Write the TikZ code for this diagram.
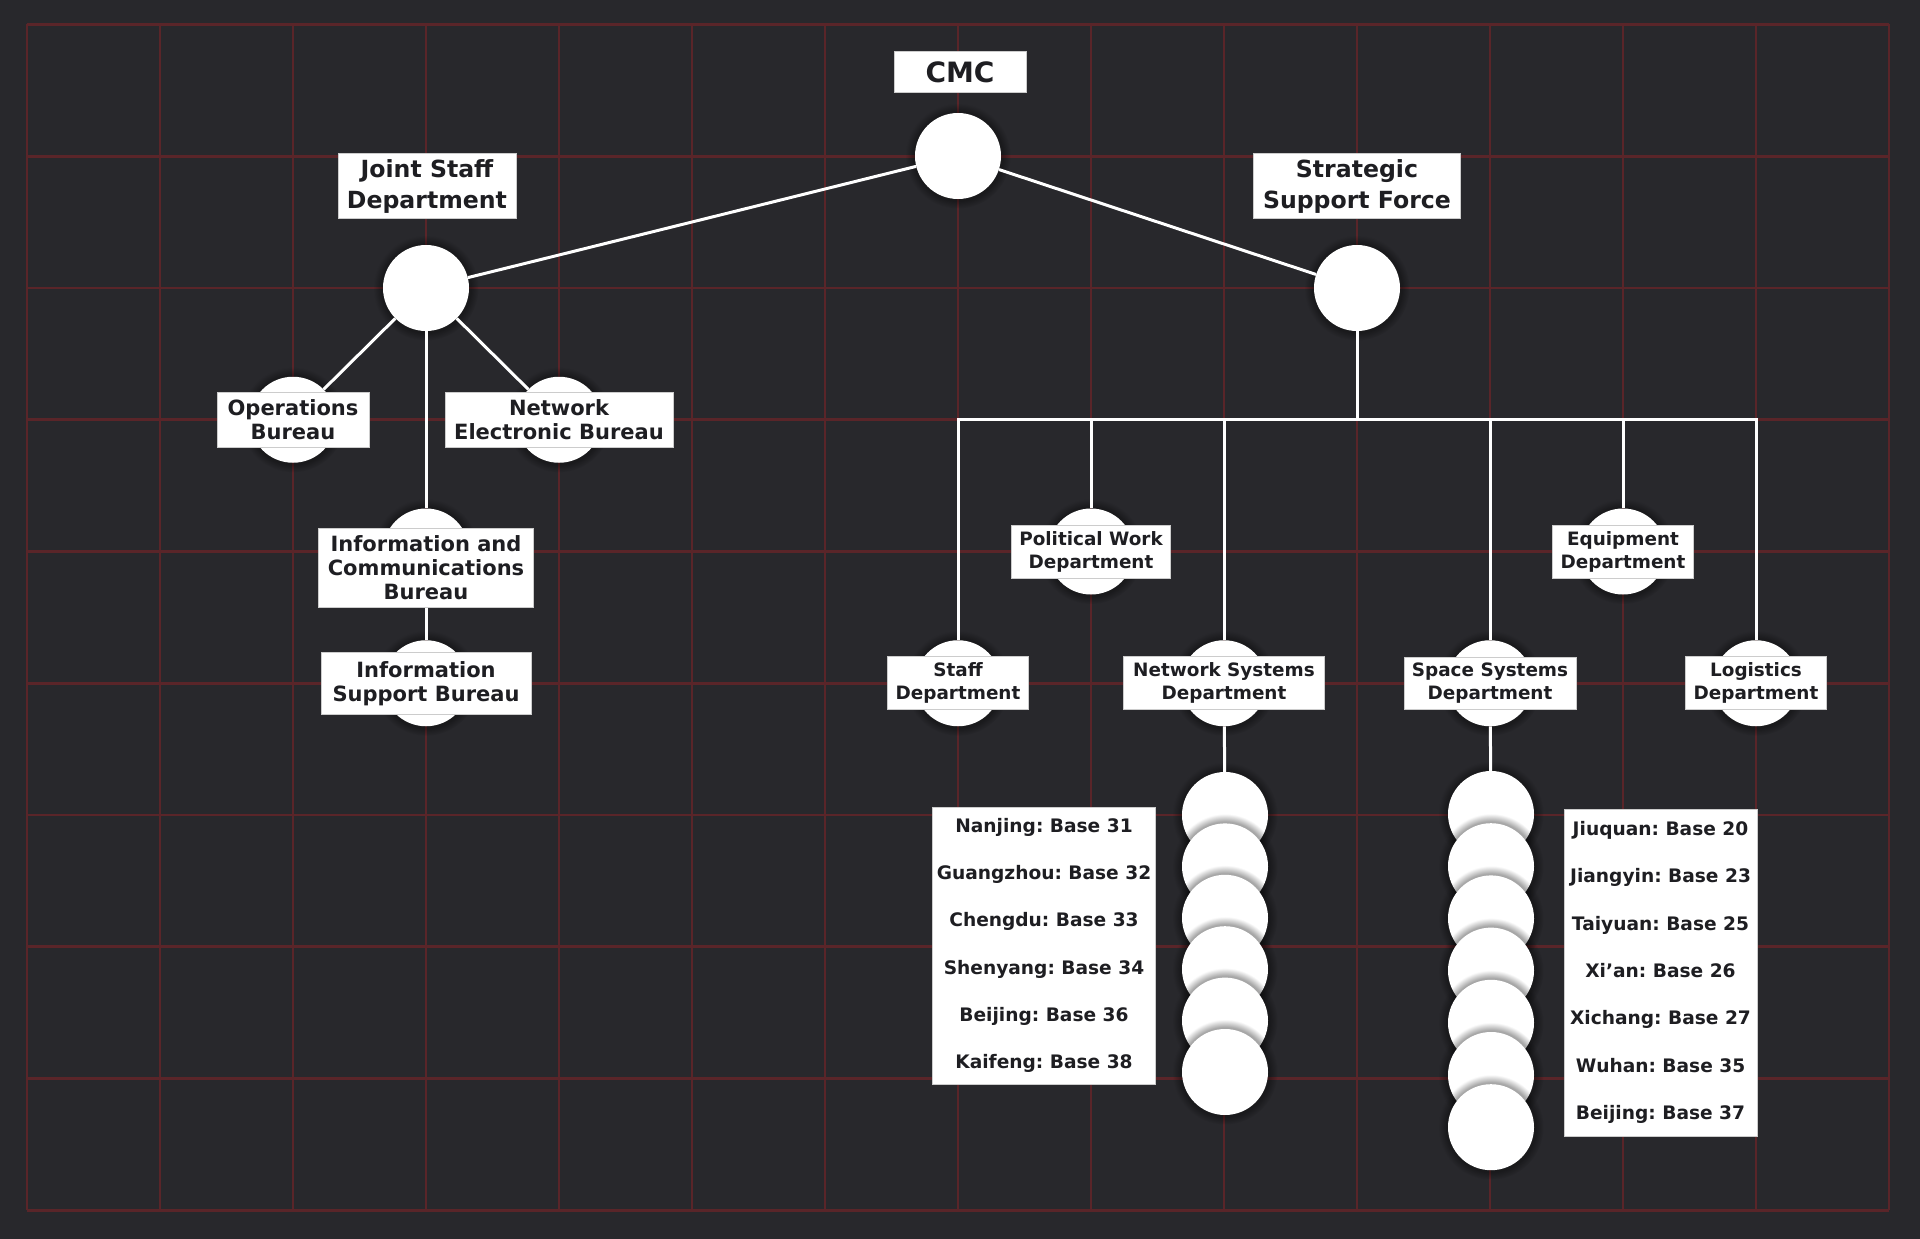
\documentclass[tikz,border=0pt]{standalone}
\usepackage{fontspec}
\setmainfont{DejaVu Sans}
\usepackage{tikz}
\usetikzlibrary{shadows}
\definecolor{bgdark}{HTML}{28282C}
\definecolor{gridred}{HTML}{5A2529}
\definecolor{inkdark}{HTML}{1E1E22}
\frenchspacing
\tikzset{
  orgnode/.style = {rectangle, fill=white, draw=black!20, line width=0.8pt,
    text=inkdark, align=center, inner xsep=9pt, inner ysep=7.5pt},
  org_c/.style = {circle, fill=white, minimum size=86pt, inner sep=0pt,
    circular drop shadow={shadow xshift=0pt, shadow yshift=0pt,
      shadow scale=1.22, fill=black, opacity=.35}},% disque blanc
  org_t/.style = {orgnode, minimum width=132pt, minimum height=41pt,
    font=\bfseries\fontsize{28}{30}\selectfont},% sommet
  org_h/.style = {orgnode, inner ysep=5.5pt,
    font=\bfseries\fontsize{23.6}{31}\selectfont},% branches
  org_b/.style = {orgnode, font=\bfseries\fontsize{21}{24}\selectfont},% bureaux
  org_d/.style = {orgnode, inner xsep=8pt, inner ysep=6pt,
    font=\bfseries\fontsize{18.4}{23}\selectfont},% departements
  org_l/.style = {orgnode, inner xsep=4pt,
    font=\bfseries\fontsize{18.6}{47.3}\selectfont},% listes des bases
  link/.style = {draw=white, line width=3pt}
}

\begin{document}
\begin{tikzpicture}[x=1pt, y=-1pt]
\useasboundingbox (0,0) rectangle (1920,1239);
\fill[bgdark] (0,0) rectangle (1920,1239);
\foreach \i in {0,...,14}
  \draw[gridred, line width=2.7pt] ({27+133*\i},24.5) -- ({27+133*\i},1210.25);
\foreach \j in {0,...,9}
  \draw[gridred, line width=2.7pt] (27,{24.5+131.75*\j}) -- (1889,{24.5+131.75*\j});

% disques
\node [org_c] (cmc) at (958,156) {};
\node [org_c] (jsd) at (426,288) {};
\node [org_c] (ssf) at (1357,288) {};
\node [org_c] (ops) at (293,419.75) {};
\node [org_c] (neb) at (559,419.75) {};
\node [org_c] (icb) at (426,551.5) {};
\node [org_c] (isb) at (426,683.25) {};
\node [org_c] (pwd) at (1091,551.5) {};
\node [org_c] (eqd) at (1623,551.5) {};
\node [org_c] (sfd) at (958,683.25) {};
\node [org_c] (nsd) at (1224,683.25) {};
\node [org_c] (ssd) at (1490,683.25) {};
\node [org_c] (lgd) at (1756,683.25) {};
\foreach \i in {1,...,6}
  \node [org_c] (nw\i) at (1225,{763.6+51.4*\i}) {};
\foreach \i in {1,...,7}
  \node [org_c] (sp\i) at (1491,{761.8+52.2*\i}) {};

% liens
\draw[link] (cmc) -- (jsd);
\draw[link] (cmc) -- (ssf);
\draw[link] (jsd) -- (ops);
\draw[link] (jsd) -- (neb);
\draw[link] (jsd) -- (icb);
\draw[link] (icb) -- (isb);
\coordinate (bus) at (ssf |- ops);
\draw[link] (ssf) -- (bus);
\foreach \d in {sfd,pwd,nsd,ssd,eqd,lgd}
  \draw[link] (bus) -| (\d);
\draw[link] (nsd) -- (nw1);
\draw[link] (ssd) -- (sp1);

% etiquettes
\node [org_t] (cmc_l) at (960,72) {CMC};
\node [org_h, minimum width=178pt] (jsd_l) at (427,186) {Joint Staff\\Department};
\node [org_h, minimum width=207pt] (ssf_l) at (1357,186) {Strategic\\Support Force};
\node [org_b, minimum width=152pt] (ops_l) at (ops) {Operations\\Bureau};
\node [org_b, minimum width=228pt] (neb_l) at (neb) {Network\\Electronic Bureau};
\node [org_b, minimum width=212pt] (icb_l) at ([yshift=-16.5pt]icb) {Information and\\Communications\\Bureau};
\node [org_b, minimum width=210pt, minimum height=62pt] (isb_l) at (isb) {Information\\Support Bureau};
\node [org_d, minimum width=155pt] (pwd_l) at (pwd) {Political Work\\Department};
\node [org_d, minimum width=140pt] (eqd_l) at (eqd) {Equipment\\Department};
\node [org_d, minimum width=140pt] (sfd_l) at (sfd) {Staff\\Department};
\node [org_d, minimum width=201pt] (nsd_l) at (nsd) {Network Systems\\Department};
\node [org_d, minimum width=172pt] (ssd_l) at (ssd) {Space Systems\\Department};
\node [org_d, minimum width=140pt] (lgd_l) at (lgd) {Logistics\\Department};

% bases
\node [org_l, minimum width=218pt, minimum height=277pt] (nw_list) at (1044,945.5)
  {Nanjing: Base 31\\Guangzhou: Base 32\\Chengdu: Base 33\\Shenyang: Base 34\\Beijing: Base 36\\Kaifeng: Base 38};
\node [org_l, minimum width=193pt, minimum height=327pt] (sp_list) at (1660.5,972.5)
  {Jiuquan: Base 20\\Jiangyin: Base 23\\Taiyuan: Base 25\\Xi’an: Base 26\\Xichang: Base 27\\Wuhan: Base 35\\Beijing: Base 37};
\end{tikzpicture}
\end{document}
